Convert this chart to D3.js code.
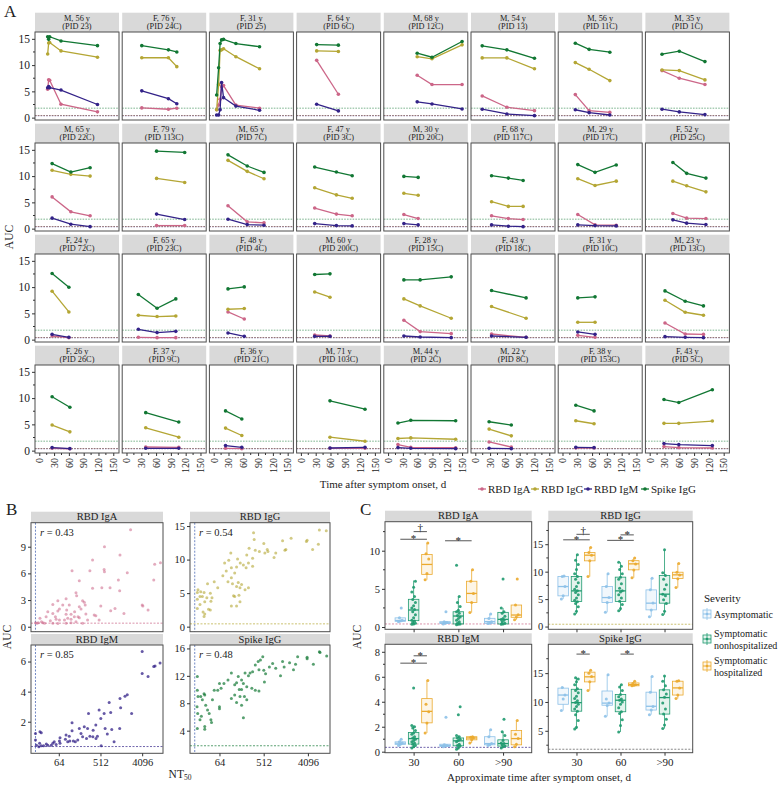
<!DOCTYPE html>
<html><head><meta charset="utf-8">
<script src="https://cdn.jsdelivr.net/npm/d3@7"></script>
<style>body{margin:0;background:#fff}</style>
</head><body><svg id="c" width="781" height="786"></svg>
<script>
// ---------------- DATA ----------------
const antigens = ["RBD IgA", "RBD IgG", "RBD IgM", "Spike IgG"];
const antigenColors = ["#CC6688", "#B4A634", "#332288", "#117733"];
const thresholds = [0.4, 0.42, 0.35, 1.8];

const patientInfo = ["M, 56 y","F, 76 y","F, 31 y","F, 64 y","M, 68 y","M, 54 y","M, 56 y","M, 35 y",
 "M, 65 y","F, 79 y","M, 65 y","F, 47 y","M, 30 y","F, 68 y","M, 29 y","F, 52 y",
 "F, 24 y","F, 65 y","F, 48 y","M, 60 y","F, 28 y","F, 43 y","F, 31 y","M, 23 y",
 "F, 26 y","F, 37 y","F, 36 y","M, 71 y","M, 44 y","M, 22 y","F, 38 y","F, 43 y"];
const patientIds = ["PID 23","PID 24C","PID 25","PID 6C","PID 12C","PID 13","PID 11C","PID 1C",
 "PID 22C","PID 113C","PID 7C","PID 3C","PID 20C","PID 117C","PID 17C","PID 25C",
 "PID 72C","PID 23C","PID 4C","PID 200C","PID 15C","PID 18C","PID 10C","PID 13C",
 "PID 26C","PID 9C","PID 21C","PID 103C","PID 2C","PID 8C","PID 153C","PID 5C"];
const patientDays = [[17,19,21,44,118],[31,85,102],[6,10,13,16,20,45,93],[32,76],[59,89,150],[14,64,120],[26,54,96],[25,60,112],
 [26,64,103],[61,118],[29,68,102],[28,72,104],[32,61],[33,67,97],[31,66,109],[47,75,114],
 [26,60],[24,62,100],[29,62],[28,59],[32,65,128],[33,103],[31,66],[31,72,109],
 [26,62],[39,106],[24,57],[59,130],[20,46,137],[28,73],[27,64],[29,59,127]];
const rbdIgA = [[5.4,7.2,7.1,2.55,1.1],[1.85,1.6,1.8],[1.5,2.4,3.5,5.9,6.1,2.4,1.8],[10.9,4.45],[8.07,6.3,6.3],[4.13,1.98,1.33],[4.38,1.33,1.0],[8.95,7.5,6.3],
 [6.04,3.2,2.44],[0.58,0.58],[4.37,1.29,1.1],[3.92,2.77,2.44],[2.69,1.92],[2.44,1.92,1.73],[2.69,0.71,0.65],[2.88,2.0,1.92],
 [0.69,0.38],[0.44,0.38,0.38],[5.27,3.93],[0.88,0.69],[3.68,1.53,1.14],[1.07,0.44],[0.82,0.44],[3.17,1.07,1.0],
 [0.45,0.36],[0.69,0.62],[0.44,0.38],[0.44,0.44],[1.15,0.63,0.56],[1.65,0.69],[0.5,0.5],[0.77,0.58,0.5]];
const rbdIgG = [[12.1,14.2,14.3,12.7,11.5],[11.4,11.4,9.7],[1.5,6.3,12.8,12.9,13.1,11.6,9.3],[12.7,12.6],[11.6,11.2,13.85],[11.37,11.37,9.3],[10.48,9.2,7.05],[9.08,8.95,7.18],
 [11.1,10.33,10.0],[9.56,8.79],[13.0,10.9,9.5],[7.77,6.42,5.77],[6.73,6.35],[5.13,4.23,4.23],[9.5,8.21,9.04],[9.04,8.15,7.0],
 [9.22,5.27],[4.64,4.39,4.5],[5.78,5.92],[9.08,8.07],[7.75,6.42,4.07],[6.3,4.07],[3.3,3.3],[7.5,5.21,4.64],
 [4.87,3.58],[4.35,2.56],[4.29,2.88],[2.56,1.79],[2.31,2.42,2.17],[4.1,2.81],[5.69,5.12],[5.19,5.19,5.63]];
const rbdIgM = [[5.7,5.9,5.7,5.25,2.5],[5.1,3.6,2.65],[0.5,0.5,1.5,6.7,3.8,2.2,1.4],[2.55,1.28],[3.0,2.6,1.65],[1.6,0.7,0.38],[1.5,0.95,0.5],[1.6,1.09,0.57],
 [2.0,0.84,0.38],[2.77,1.73],[1.8,0.77,0.65],[0.96,0.58,0.52],[0.96,0.71],[0.71,0.46,0.38],[0.71,0.58,0.52],[1.67,1.04,0.77],
 [1.01,0.44],[1.97,1.34,1.58],[1.27,0.63],[0.63,0.63],[0.69,0.5,0.38],[0.69,0.44],[1.46,1.01],[0.57,0.44,0.38],
 [0.58,0.38],[0.44,0.44],[0.96,0.63],[0.5,0.63],[0.58,0.44,0.38],[0.44,0.38],[0.63,0.58],[1.35,1.15,0.96]];
const spikeIgG = [[15.4,14.9,15.4,14.6,13.7],[13.7,12.9,12.5],[4.3,9.5,14.1,14.8,14.9,14.1,13.5],[13.9,13.8],[12.26,11.5,14.5],[13.66,12.9,11.3],[14.17,13.0,12.45],[12.07,12.64,10.67],
 [12.38,10.77,11.6],[14.75,14.5],[14.04,11.92,10.7],[11.73,10.77,10.08],[9.94,9.75],[10.08,9.62,9.17],[12.19,10.71,12.12],[12.58,10.52,9.62],
 [12.6,9.98],[8.59,5.97,7.75],[9.66,10.04],[12.4,12.52],[11.37,11.37,11.95],[9.35,7.94],[7.94,8.14],[9.28,7.31,6.42],
 [10.25,8.27],[7.23,5.44],[7.56,6.02],[9.48,7.88],[5.25,5.77,5.69],[5.5,4.87],[8.65,7.56],[9.73,9.15,11.6]];
const xTicksA = [0, 30, 60, 90, 120, 150];
const yTicksA = [0, 5, 10, 15];

// Panel B: [NT50, AUC]
const scatterIgA = [[2300,10.9],[10200,7.2],[7650,7.02],[7300,5.25],[1950,6.07],[1355,8.07],[1250,5.25],[1335,4.05],[625,9.0],[625,6.19],[614,6.45],[345,7.5],[302,6.3],[124,6.3],[178,5.17],[345,4.32],[548,4.39],[826,4.39],[151,3.82],[156,3.49],[92,3.15],[61,2.92],[47.5,2.51],[78,2.44],[108,2.44],[210,2.92],[228,2.74],[239,2.44],[178,2.25],[520,2.33],[1058,2.06],[853,1.8],[1650,1.5],[4096,2.44],[4240,2.33],[5500,1.88],[194,1.99],[141,1.69],[95,1.88],[66,1.99],[37,1.69],[47.5,1.5],[61,1.77],[34,1.12],[54,1.12],[92,1.39],[118,1.39],[139,1.12],[167,1.12],[247,1.43],[374,1.32],[406,1.24],[178,1.01],[118,0.83],[100,0.94],[85,0.75],[66,0.75],[56,0.83],[42,0.68],[25,0.94],[23,0.45],[27,0.56],[29,0.45],[20,0.45],[21.5,0.38],[31.5,0.38],[47.5,0.38],[61,0.35],[92,0.38],[118,0.45],[210,0.38],[478,0.75],[269,0.75],[151,0.56]];
const scatterIgG = [[9720,14.3],[7030,14.4],[6700,12.3],[5110,11.5],[3950,12.9],[3820,12.7],[1860,13.2],[1455,11.5],[1390,11.4],[1245,12.8],[833,10.3],[903,11.0],[625,11.2],[605,11.5],[541,11.0],[515,12.4],[418,11.2],[345,11.4],[318,14.0],[328,13.0],[304,10.2],[304,9.0],[258,11.7],[231,10.7],[250,9.5],[224,8.8],[197,9.2],[143,8.9],[170,9.5],[150,10.1],[109,11.0],[99,9.9],[112,8.8],[131,8.0],[112,7.3],[88,8.3],[81.5,9.5],[75,7.6],[95.5,6.7],[118,6.4],[155,6.6],[168,5.8],[181,6.3],[143,6.0],[213,5.5],[250,5.8],[160,4.7],[124,4.6],[131,4.5],[112,3.1],[143,3.1],[168,3.7],[59,5.8],[50,6.7],[41.6,5.0],[45,4.3],[36.5,6.4],[31,5.1],[26.5,5.2],[25.6,3.3],[25.6,4.5],[28.6,4.5],[32,3.7],[35.3,4.3],[38.3,2.6],[41.6,2.5],[42.8,3.8],[29.6,2.2],[31,1.5],[32,1.9],[22.6,5.1],[22.6,4.1],[23.3,5.5],[22.6,2.7]];
const scatterIgM = [[4096,6.67],[4096,5.2],[5500,5.0],[7300,5.67],[7800,5.7],[10000,5.9],[1950,3.8],[1740,3.7],[1355,3.55],[1400,2.93],[1335,1.55],[2420,2.55],[790,3.27],[478,2.78],[614,2.55],[520,2.22],[853,2.62],[900,1.49],[645,1.55],[720,1.18],[1010,0.67],[530,0.4],[406,1.78],[355,1.44],[282,2.55],[269,1.55],[228,1.67],[178,1.55],[194,1.22],[210,1.0],[302,1.04],[350,1.0],[410,0.89],[440,1.04],[255,0.89],[124,1.93],[124,1.4],[108,1.04],[92,1.11],[165,0.78],[146,0.67],[132,0.71],[111,0.71],[100,0.67],[89,0.84],[68,0.93],[66,0.71],[68,0.56],[47.5,0.56],[44,0.44],[37,0.44],[34.3,0.51],[30,0.4],[26.7,0.4],[24.6,0.56],[23.7,0.33],[21,0.44],[20,0.78],[20,1.22],[25,1.33],[26.7,1.27],[51,0.67],[56,0.49]];
const scatterSpike = [[7030,15.5],[7250,15.4],[9900,14.9],[5300,13.7],[3950,14.7],[3950,14.5],[2290,13.7],[2530,14.8],[2080,12.9],[1730,13.9],[1245,14.1],[1340,13.3],[1130,12.0],[903,13.1],[780,13.8],[670,13.3],[490,14.8],[515,12.8],[560,12.3],[530,11.1],[440,14.3],[395,14.1],[410,12.9],[345,13.6],[304,12.6],[270,12.4],[250,12.0],[213,12.4],[181,11.4],[197,10.9],[155,11.9],[143,11.0],[131,10.7],[162,10.0],[181,10.0],[231,10.4],[293,10.2],[345,9.9],[410,9.8],[231,8.5],[207,9.0],[168,9.0],[143,8.1],[131,9.2],[112,8.7],[181,7.7],[197,5.9],[112,12.4],[95.5,11.4],[79,10.9],[64,10.9],[69,10.2],[59,9.9],[64,7.5],[64,7.2],[50,9.9],[46,8.5],[42.8,5.6],[44,5.2],[39.5,6.5],[36.5,7.0],[31,9.4],[32,9.2],[28.6,8.5],[26.5,9.0],[33.5,7.7],[32,4.6],[32,4.2],[25.6,5.6],[27.3,6.1],[22.6,11.9],[23.3,9.0],[22.6,9.9],[22.6,4.3],[23,6.5],[22.3,7.5]];
const scatterR = ["0.43", "0.54", "0.85", "0.48"];
const nt50Ticks = [64, 512, 4096];
const nt50LOD = 20;

// Panel C
const timeCats = ["30", "60", ">90"];
const severities = ["Asymptomatic", "Symptomatic nonhospitalized", "Symptomatic hospitalized"];
const severityColors = ["#8DC1E8", "#1F9A6F", "#EBAA2E"];
// box stats [lo, q1, median, q3, hi] ordered: 30(asym,non,hosp), 60(...), >90(...)
const boxIgA = [[0.65,0.75,0.85,1.2,1.3],[0.35,0.83,2.23,3.63,6.1],[6.2,6.9,8.2,9.5,11.0],
 [0.4,0.45,0.55,0.7,0.75],[0.3,0.4,1.44,2.0,4.0],[1.9,3.2,4.4,6.0,7.5],
 [0.45,0.48,0.7,1.14,1.7],[0.35,0.4,1.0,1.92,2.5],[0.95,1.27,1.57,2.88,2.9]];
const boxIgG = [[5.0,5.59,7.29,9.1,9.2],[2.3,4.55,6.5,9.1,13.1],[9.1,11.97,13.0,13.5,14.4],
 [2.6,4.37,5.28,7.3,9.6],[2.86,4.55,6.5,9.0,11.7],[8.9,10.33,11.42,12.0,12.5],
 [1.8,3.04,4.26,6.68,8.8],[2.2,4.26,5.9,9.29,14.0],[7.1,8.74,9.42,9.9,11.5]];
const boxIgM = [[0.5,0.58,0.68,0.79,1.0],[0.3,0.61,1.05,1.53,2.1],[1.5,2.31,3.23,4.25,5.7],
 [0.4,0.42,0.5,0.6,0.65],[0.2,0.47,0.87,1.1,1.3],[0.7,0.95,1.1,1.2,1.2],
 [0.5,0.55,0.65,1.2,1.75],[0.3,0.45,0.65,0.95,1.6],[0.4,0.55,1.05,1.7,2.5]];
const boxSpike = [[8.5,9.6,11.2,12.4,12.6],[5.3,8.4,9.88,12.2,14.2],[12.0,13.48,14.36,15.17,15.5],
 [7.5,9.43,9.8,11.9,14.7],[4.8,8.3,10.3,11.3,13.0],[12.8,12.8,13.0,13.3,13.6],
 [7.8,8.6,9.25,11.7,14.4],[5.4,7.9,10.76,12.1,14.5],[10.6,11.2,12.44,13.6,13.7]];
const ptsIgA = [[0.7,0.8,0.9,1.2,2.5],[0.35,0.4,0.5,0.6,0.8,0.9,1.2,1.6,2.0,2.3,2.5,2.8,3.2,3.6,4.0,4.6,5.2,6.0],[6.2,7.0,8.9,9.6,11.0],
 [0.4,0.5,0.6,0.7,2.0],[0.3,0.35,0.4,0.5,0.7,0.9,1.1,1.3,1.5,1.8,2.0,2.2,2.7,3.2,4.0,8.1],[1.9,3.2,4.4,6.0,7.5],
 [0.45,0.5,0.7,1.1,1.7],[0.35,0.4,0.5,0.7,0.9,1.0,1.1,1.4,1.8,2.0,2.5,6.3],[0.95,1.3,1.6,2.9,6.3]];
const ptsIgG = [[5.0,5.6,7.3,9.1,9.2],[2.3,2.8,3.6,4.2,4.5,4.8,5.2,5.8,6.2,6.5,6.8,7.3,8.0,8.6,9.1,9.6,10.4,11.3,12.1,13.1],[9.1,12.0,13.0,13.5,14.4],
 [2.6,4.4,5.3,7.3,9.6],[2.9,3.3,4.0,4.6,5.2,5.8,6.3,6.5,7.0,7.8,8.6,9.0,9.6,10.4,11.0,11.7],[8.9,10.3,11.4,12.0,12.5],
 [1.8,3.0,4.3,6.7,8.8],[2.2,2.8,4.2,4.9,5.6,5.9,6.8,7.6,8.6,9.3,9.8,14.0],[7.1,8.7,9.4,9.9,11.5]];
const ptsIgM = [[0.5,0.6,0.7,0.8,1.0],[0.3,0.4,0.5,0.6,0.7,0.8,0.9,1.0,1.1,1.2,1.4,1.5,1.7,1.9,2.0,2.1,5.1],[1.5,2.3,3.2,3.8,5.7],
 [0.4,0.45,0.5,0.55,2.75],[0.2,0.3,0.45,0.5,0.6,0.8,0.9,1.0,1.1,1.2,1.3,2.95,3.6],[0.7,0.95,1.1,1.15,1.2],
 [0.5,0.55,0.65,1.2,1.75],[0.3,0.4,0.45,0.55,0.65,0.7,0.9,1.3,1.6,2.6],[0.4,0.6,1.05,1.4,2.5]];
const ptsSpike = [[8.5,10.5,11.2,12.5],[5.3,5.6,6.8,7.8,8.4,8.8,9.2,9.6,9.9,10.2,10.6,11.0,11.6,12.0,12.3,13.0,13.5,14.0,14.2],[12.0,13.5,14.4,15.0,15.5],
 [7.5,9.4,9.8,10.5,14.7],[4.8,5.9,6.9,8.0,8.3,9.0,9.6,10.0,10.3,10.5,10.9,11.3,12.0,12.6,13.0],[12.8,12.9,13.0,13.2,13.6],
 [7.8,8.6,9.2,11.7,14.4],[5.4,6.0,7.0,7.9,8.8,9.8,10.8,11.4,12.1,12.8,13.6,14.5],[10.6,11.2,12.4,13.6,13.7]];
// significance: [antigen index, time, from severity, to severity, AUC height, label]
const sigBars = [[0,"30",0,2,11.5,"*"],[0,"30",1,2,12.5,"\u2020"],[0,"60",0,2,11.3,"*"],
 [1,"30",0,2,15.8,"*"],[1,"30",1,2,16.8,"\u2020"],[1,"60",0,2,15.7,"*"],[1,"60",1,2,16.7,"*"],
 [2,"30",0,2,7.09,"*"],[2,"30",1,2,7.68,"*"],
 [3,"30",1,2,18.3,"*"],[3,"60",1,2,18.3,"*"]];

// ---------------- DRAW ----------------
const FONT = "'Liberation Serif', 'DejaVu Serif', 'Noto Serif', serif";
const svg = d3.select("#c");
const STRIP = "#d9d9d9", BORDER = "#4d4d4d", TICK = "#333";
function label(g, x, y, s, size, anchor="middle", extra={}) {
  const t = g.append("text").attr("x", x).attr("y", y).attr("font-size", size).attr("text-anchor", anchor)
    .style("font-family", FONT).style("fill", "#222").text(s);
  for (const k in extra) t.attr(k, extra[k]);
  return t;
}
function styleAxis(ax, size) {
  ax.attr("font-family", null).attr("font-size", null);
  ax.select(".domain").remove();
  ax.selectAll("line").attr("stroke", TICK);
  ax.selectAll("text").attr("font-size", size).style("font-family", FONT).style("fill", "#222");
}

// ===== Panel A =====
const colL = 35, colStep = 87.2, panW = 84, rowTop = 12.7, rowStep = 111, stripH = 19.3, panH = 88;
const xA = d3.scaleLinear().domain([-8.7, 161.6]).range([0, panW]);
const yA = d3.scaleLinear().domain([-0.45, 16.3]).range([panH, 0]);
const seriesA = [rbdIgA, rbdIgG, rbdIgM, spikeIgG];
const lineA = d3.line().x(d => xA(d[0])).y(d => yA(d[1]));
label(svg, 4, 17, "A", 17, "start");
patientInfo.forEach((info, i) => {
  const col = i % 8, row = Math.floor(i / 8);
  const g = svg.append("g").attr("transform", `translate(${colL + col * colStep},${rowTop + row * rowStep})`);
  g.append("rect").attr("width", panW).attr("height", stripH).attr("fill", STRIP);
  label(g, panW / 2, 7.9, info, 8.3);
  label(g, panW / 2, 16.6, `(${patientIds[i]})`, 8.3);
  const p = g.append("g").attr("transform", `translate(0,${stripH})`);
  p.append("rect").attr("width", panW).attr("height", panH).attr("fill", "#fff");
  thresholds.forEach((t, k) => p.append("line").attr("x1", 0).attr("x2", panW).attr("y1", yA(t)).attr("y2", yA(t))
    .attr("stroke", antigenColors[k]).attr("stroke-width", 0.6).attr("stroke-dasharray", "1.6,1.2").attr("opacity", 0.9));
  seriesA.forEach((s, k) => {
    const pts = patientDays[i].map((d, j) => [d, s[i][j]]);
    p.append("path").attr("d", lineA(pts)).attr("fill", "none").attr("stroke", antigenColors[k]).attr("stroke-width", 1.3);
    p.selectAll(null).data(pts).enter().append("circle").attr("cx", d => xA(d[0])).attr("cy", d => yA(d[1]))
      .attr("r", 1.8).attr("fill", antigenColors[k]);
  });
  p.append("rect").attr("width", panW).attr("height", panH).attr("fill", "none").attr("stroke", BORDER).attr("stroke-width", 1);
  if (col === 0) {
    const ax = p.append("g").call(d3.axisLeft(yA).tickValues(yTicksA).tickSize(3).tickPadding(2));
    styleAxis(ax, 11.5);
    p.selectAll(null).data([2.5, 7.5, 12.5]).enter().append("line").attr("x1", -2).attr("x2", 0)
      .attr("y1", d => yA(d)).attr("y2", d => yA(d)).attr("stroke", TICK);
  }
  if (row === 3) {
    const ax = p.append("g").attr("transform", `translate(0,${panH})`)
      .call(d3.axisBottom(xA).tickValues(xTicksA).tickSize(3).tickPadding(2));
    styleAxis(ax, 10);
    ax.selectAll("text").attr("transform", "rotate(-90)").attr("text-anchor", "end").attr("x", -5).attr("y", 0).attr("dy", "0.33em");
    p.selectAll(null).data([15, 45, 75, 105, 135]).enter().append("line").attr("y1", panH).attr("y2", panH + 2)
      .attr("x1", d => xA(d)).attr("x2", d => xA(d)).attr("stroke", TICK);
  }
});
label(svg, 13, 237, "AUC", 11.5, "middle", {transform: "rotate(-90,13,237)"});
label(svg, 383, 488, "Time after symptom onset, d", 11);
// legend A
const legX = [478, 531, 584, 641];
antigens.forEach((a, k) => {
  const g = svg.append("g").attr("transform", `translate(${legX[k]},489)`);
  g.append("line").attr("x1", 0).attr("x2", 8).attr("stroke", antigenColors[k]).attr("stroke-width", 1.3);
  g.append("circle").attr("cx", 4).attr("r", 1.8).attr("fill", antigenColors[k]);
  label(g, 10, 3.5, a, 11, "start");
});

// ===== Panel B =====
label(svg, 6, 515, "B", 17, "start");
const geoB = [{x0:31,x1:163,y0:522.7,y1:631.7,yd:[-0.56,11.7],yt:[0,3,6,9]},
  {x0:190,x1:330,y0:522.7,y1:631.7,yd:[-0.75,15.5],yt:[0,5,10,15]},
  {x0:31,x1:163,y0:645,y1:753.3,yd:[-0.1,7.1],yt:[2,4,6]},
  {x0:190,x1:330,y0:645,y1:753.3,yd:[0.7,16.5],yt:[4,8,12,16]}];
const scatterData = [scatterIgA, scatterIgG, scatterIgM, scatterSpike];
const scatterOpacity = [0.55, 0.6, 0.75, 0.7];
geoB.forEach((G, k) => {
  const x = d3.scaleLog().base(2).domain([16, 11585]).range([G.x0, G.x1]);
  const y = d3.scaleLinear().domain(G.yd).range([G.y1, G.y0]);
  svg.append("rect").attr("x", G.x0).attr("y", G.y0 - 11).attr("width", G.x1 - G.x0).attr("height", 11).attr("fill", STRIP);
  label(svg, (G.x0 + G.x1) / 2, G.y0 - 2.3, antigens[k], 10.5);
  svg.append("rect").attr("x", G.x0).attr("y", G.y0).attr("width", G.x1 - G.x0).attr("height", G.y1 - G.y0).attr("fill", "#fff");
  svg.append("line").attr("x1", G.x0).attr("x2", G.x1).attr("y1", y(thresholds[k])).attr("y2", y(thresholds[k]))
    .attr("stroke", antigenColors[k]).attr("stroke-width", 0.7).attr("stroke-dasharray", "2,1.5");
  svg.append("line").attr("x1", x(nt50LOD)).attr("x2", x(nt50LOD)).attr("y1", G.y0).attr("y2", G.y1)
    .attr("stroke", "#3355aa").attr("stroke-width", 0.7).attr("stroke-dasharray", "2,1.5");
  svg.append("g").selectAll("circle").data(scatterData[k]).enter().append("circle")
    .attr("cx", d => x(d[0])).attr("cy", d => y(d[1])).attr("r", 1.5)
    .attr("fill", antigenColors[k]).attr("opacity", scatterOpacity[k]);
  const rt = label(svg, G.x0 + 9, G.y0 + 13, "", 10.5, "start");
  rt.append("tspan").attr("font-style", "italic").text("r");
  rt.append("tspan").text(" = " + scatterR[k]);
  svg.append("rect").attr("x", G.x0).attr("y", G.y0).attr("width", G.x1 - G.x0).attr("height", G.y1 - G.y0)
    .attr("fill", "none").attr("stroke", BORDER);
  const ay = svg.append("g").attr("transform", `translate(${G.x0},0)`).call(d3.axisLeft(y).tickValues(G.yt).tickSize(3).tickPadding(2));
  styleAxis(ay, 10.5);
  if (k >= 2) {
    const ax = svg.append("g").attr("transform", `translate(0,${G.y1})`).call(d3.axisBottom(x).tickValues(nt50Ticks).tickFormat(d3.format("d")).tickSize(3).tickPadding(2));
    styleAxis(ax, 10.5);
  }
});
label(svg, 11, 637, "AUC", 11.5, "middle", {transform: "rotate(-90,11,637)"});
const ntl = label(svg, 180, 778, "", 11.5, "middle");
ntl.append("tspan").text("NT");
ntl.append("tspan").attr("font-size", 7.5).attr("dy", 2).text("50");

// ===== Panel C =====
label(svg, 360, 515, "C", 17, "start");
const geoC = [{x0:385,x1:531.7,y0:521.7,y1:629.3,yd:[-0.3,13.8],yt:[0,5,10],ym:[2.5,7.5,12.5]},
  {x0:548.3,x1:692.7,y0:521.7,y1:629.3,yd:[-0.5,19.1],yt:[0,5,10,15],ym:[2.5,7.5,12.5,17.5]},
  {x0:385,x1:531.7,y0:644.3,y1:752.7,yd:[-0.08,8.6],yt:[0,2,4,6,8],ym:[1,3,5,7]},
  {x0:548.3,x1:692.7,y0:644.3,y1:752.7,yd:[1.2,20],yt:[5,10,15],ym:[2.5,7.5,12.5,17.5]}];
const boxData = [boxIgA, boxIgG, boxIgM, boxSpike];
const ptsData = [ptsIgA, ptsIgG, ptsIgM, ptsSpike];
const dodge = [-13.3, 0, 13.3], bw = 10.5;
geoC.forEach((G, k) => {
  const x = d3.scalePoint().domain(timeCats).range([G.x0, G.x1]).padding(0.64);
  const y = d3.scaleLinear().domain(G.yd).range([G.y1, G.y0]);
  svg.append("rect").attr("x", G.x0).attr("y", G.y0 - 11).attr("width", G.x1 - G.x0).attr("height", 11).attr("fill", STRIP);
  label(svg, (G.x0 + G.x1) / 2, G.y0 - 2.3, antigens[k], 10.5);
  svg.append("rect").attr("x", G.x0).attr("y", G.y0).attr("width", G.x1 - G.x0).attr("height", G.y1 - G.y0).attr("fill", "#fff");
  svg.append("line").attr("x1", G.x0).attr("x2", G.x1).attr("y1", y(thresholds[k])).attr("y2", y(thresholds[k]))
    .attr("stroke", k === 3 ? "#555" : antigenColors[k]).attr("stroke-width", 0.7).attr("stroke-dasharray", "2,1.5");
  timeCats.forEach((tc, ti) => {
    severities.forEach((sv, si) => {
      const idx = ti * 3 + si, b = boxData[k][idx], c = severityColors[si];
      const cx = x(tc) + dodge[si];
      const g = svg.append("g");
      g.append("line").attr("x1", cx).attr("x2", cx).attr("y1", y(b[0])).attr("y2", y(b[1])).attr("stroke", c).attr("stroke-width", 0.8);
      g.append("line").attr("x1", cx).attr("x2", cx).attr("y1", y(b[3])).attr("y2", y(b[4])).attr("stroke", c).attr("stroke-width", 0.8);
      g.append("rect").attr("x", cx - bw / 2).attr("width", bw).attr("y", y(b[3])).attr("height", Math.max(0.8, y(b[1]) - y(b[3])))
        .attr("fill", c).attr("fill-opacity", 0.12).attr("stroke", c).attr("stroke-width", 0.8);
      g.append("line").attr("x1", cx - bw / 2).attr("x2", cx + bw / 2).attr("y1", y(b[2])).attr("y2", y(b[2])).attr("stroke", c).attr("stroke-width", 1.3);
      g.selectAll(null).data(ptsData[k][idx]).enter().append("circle")
        .attr("cx", (d, j) => cx + (((j * 7) % 5) - 2) * 0.9).attr("cy", d => y(d)).attr("r", 1.5)
        .attr("fill", c).attr("opacity", 0.9);
    });
  });
  sigBars.filter(s => s[0] === k).forEach(s => {
    const xa = x(s[1]) + dodge[s[2]], xb = x(s[1]) + dodge[s[3]], yy = y(s[4]);
    svg.append("line").attr("x1", xa).attr("x2", xb).attr("y1", yy).attr("y2", yy).attr("stroke", "#444").attr("stroke-width", 0.9);
    label(svg, (xa + xb) / 2, yy + (s[5] === "*" ? 3 : -0.3), s[5], 11);
  });
  svg.append("rect").attr("x", G.x0).attr("y", G.y0).attr("width", G.x1 - G.x0).attr("height", G.y1 - G.y0)
    .attr("fill", "none").attr("stroke", BORDER);
  const ay = svg.append("g").attr("transform", `translate(${G.x0},0)`).call(d3.axisLeft(y).tickValues(G.yt).tickSize(3).tickPadding(2));
  styleAxis(ay, 10.5);
  svg.selectAll(null).data(G.ym).enter().append("line").attr("x1", G.x0 - 2).attr("x2", G.x0)
    .attr("y1", d => y(d)).attr("y2", d => y(d)).attr("stroke", TICK);
  const ax = svg.append("g").attr("transform", `translate(0,${G.y1})`).call(d3.axisBottom(x).tickSize(3).tickPadding(3));
  styleAxis(ax, 11);
  if (k < 2) ax.selectAll("text").remove();
});
label(svg, 361, 637, "AUC", 11.5, "middle", {transform: "rotate(-90,361,637)"});
label(svg, 539, 781, "Approximate time after symptom onset, d", 11);
// Severity legend
label(svg, 704, 602, "Severity", 11, "start");
const legC = [[614, ["Asymptomatic"]], [639, ["Symptomatic", "nonhospitalized"]], [666, ["Symptomatic", "hospitalized"]]];
legC.forEach((L, si) => {
  const c = severityColors[si], cy = L[0], kx = 703;
  svg.append("rect").attr("x", kx).attr("y", cy - 4).attr("width", 8).attr("height", 8).attr("fill", c).attr("fill-opacity", 0.12)
    .attr("stroke", c).attr("stroke-width", 0.8);
  svg.append("line").attr("x1", kx).attr("x2", kx + 8).attr("y1", cy).attr("y2", cy).attr("stroke", c).attr("stroke-width", 1);
  svg.append("line").attr("x1", kx + 4).attr("x2", kx + 4).attr("y1", cy - 6).attr("y2", cy + 6).attr("stroke", c).attr("stroke-width", 0.8);
  svg.append("circle").attr("cx", kx + 4).attr("cy", cy).attr("r", 1.3).attr("fill", c);
  const lines = L[1];
  lines.forEach((s, j) => label(svg, 714, cy + 3.5 + (j - (lines.length - 1) / 2) * 12, s, 10, "start"));
});
</script></body></html>
